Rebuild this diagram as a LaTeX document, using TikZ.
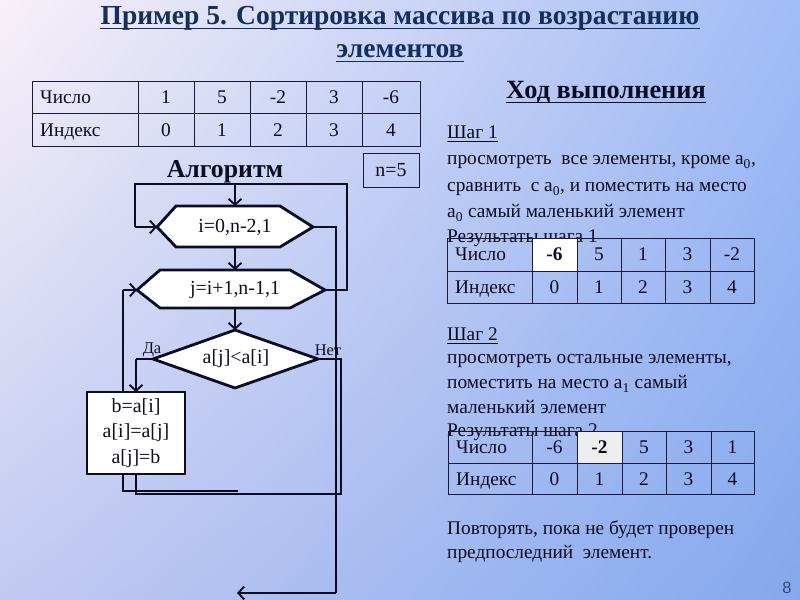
\documentclass[tikz,border=0pt]{standalone}
\usepackage{fontspec}
\setmainfont{Liberation Serif}
\newfontfamily\pgnumfont{Liberation Sans}
\usetikzlibrary{arrows.meta,shadings}
\definecolor{ink}{HTML}{0C0C22}
\definecolor{titlecol}{HTML}{14305A}
\definecolor{gridcol}{HTML}{1A1A3A}
\definecolor{bgUL}{HTML}{F8F0F8}
\definecolor{bgUR}{HTML}{A2BCF6}
\definecolor{bgLL}{HTML}{C2CAF2}
\definecolor{bgLR}{HTML}{84A8EE}
\definecolor{cellgray}{HTML}{EEEEEE}
\definecolor{numcol}{HTML}{3A4670}
\tikzset{
  flow/.style={line width=2.4pt, draw=ink, line join=miter},
  arr/.style={flow, -{Straight Barb[length=5pt,width=11pt,line width=1.6pt]}},
  grid/.style={line width=0.8pt, draw=gridcol},
  cell/.style={inner sep=0pt, text depth=0pt, font=\fontsize{16.5}{18}\selectfont, text=ink},
  lbl/.style={inner sep=0pt, text depth=0pt, anchor=west, font=\fontsize{16.5}{18}\selectfont, text=ink},
  body/.style={inner sep=0pt, anchor=base west, font=\fontsize{16.5}{18}\selectfont, text=ink},
  ftxt/.style={inner sep=0pt, font=\fontsize{17}{22}\selectfont, text=ink, align=center},
  ulin/.style={line width=1.3pt},
}
\begin{document}
\begin{tikzpicture}[x=0.03cm,y=-0.03cm]
\useasboundingbox (0,0) rectangle (800,600);
\shade[upper left=bgUL, upper right=bgUR, lower left=bgLL, lower right=bgLR] (0,0) rectangle (800,600);

% Title
\node[inner sep=0pt, anchor=base, font=\bfseries\fontsize{23.5}{26}\selectfont, text=titlecol] (title1) at (400,25) {Пример 5. Сортировка массива по возрастанию};
\node[inner sep=0pt, anchor=base, font=\bfseries\fontsize{23.5}{26}\selectfont, text=titlecol] (title2) at (400,58) {элементов};
\draw[ulin, titlecol] ([yshift=-3pt]title1.base west) -- ([yshift=-3pt]title1.base east);
\draw[ulin, titlecol] ([yshift=-3pt]title2.base west) -- ([yshift=-3pt]title2.base east);

% Top table
\draw[grid] (32,81) rectangle (420,146);
\draw[grid] (32,113) -- (420,113);
\foreach \x in {138,194,250,306,362} \draw[grid] (\x,81) -- (\x,146);
\node[lbl] (t0r1) at (40,97) {Число};
\node[lbl] (t0r2) at (40,130) {Индекс};
\foreach \v/\x/\n in {1/166/a,5/222/b,-2/278/c,3/334/d,-6/391/e}
  \node[cell] (t0n\n) at (\x,97) {\v};
\foreach \v/\x/\n in {0/166/a,1/222/b,2/278/c,3/334/d,4/391/e}
  \node[cell] (t0i\n) at (\x,130) {\v};

% Algorithm heading and n=5
\node[inner sep=0pt, font=\bfseries\fontsize{22}{24}\selectfont, text=ink] (algo) at (225,172) {Алгоритм};
\node[draw=gridcol, line width=0.8pt, minimum width=56*0.03cm, minimum height=34*0.03cm, inner sep=0pt, font=\fontsize{17}{20}\selectfont, text=ink] (nbox) at (391,170) {n=5};

% Flowchart shapes (coordinates)
\coordinate (h1l) at (157,227); \coordinate (h1r) at (313,227);
\coordinate (h1t) at (235,206); \coordinate (h1b) at (235,247);
\coordinate (h2l) at (137,290); \coordinate (h2r) at (325,290);
\coordinate (h2t) at (235,270); \coordinate (h2b) at (235,308);
\coordinate (dl) at (153,359); \coordinate (dr) at (318,359);
\coordinate (dt) at (235,330); \coordinate (db) at (235,388);

% connectors behind
\coordinate (c1) at (347,290); \coordinate (c2) at (347,184);
\coordinate (c3) at (135,184); \coordinate (c4) at (135,227);
\coordinate (c5) at (235,184);
\draw[flow] (h2r) -- (c1) -- (c2) -- (c3) -- (c4);
\draw[arr] (c4) -- (h1l);
\draw[arr] (c5) -- (h1t);
\draw[arr] (h1b) -- (h2t);
\draw[arr] (h2b) -- (dt);
\coordinate (e1) at (336,227); \coordinate (e2) at (336,593); \coordinate (exit) at (237,593);
\draw[flow] (h1r) -- (e1) -- (e2);
\draw[arr] (e2) -- (exit);
\coordinate (l1) at (238,491); \coordinate (l2) at (123,491); \coordinate (l3) at (123,290);
\draw[flow] (l1) -- (l2) -- (l3);
\draw[arr] (l3) -- (h2l);
\coordinate (y1) at (136,359); \coordinate (boxtop) at (136,392);
\draw[flow] (dl) -- (y1);
\draw[arr] (y1) -- (boxtop);
\coordinate (m1) at (136,494); \coordinate (m2) at (341,494); \coordinate (m3) at (341,359);
\coordinate (boxbot) at (136,474);
\draw[flow] (boxbot) -- (m1) -- (m2) -- (m3) -- (dr);

% shapes
\draw[flow, fill=white] (h1l) -- (176,206) -- (280,206) -- (h1r) -- (280,247) -- (176,247) -- cycle;
\node[ftxt] (hex1) at (235,227) {i=0,n-2,1};
\draw[flow, fill=white] (h2l) -- (160,270) -- (290,270) -- (h2r) -- (290,308) -- (160,308) -- cycle;
\node[ftxt] (hex2) at (235,290) {j=i+1,n-1,1};
\draw[flow, fill=white] (dt) -- (dr) -- (db) -- (dl) -- cycle;
\node[ftxt] (cond) at (236,359) {a[j]<a[i]};
\node[flow, fill=white, minimum width=98*0.03cm, minimum height=82*0.03cm, inner sep=0pt, ftxt] (box) at (136,433) {b=a[i]\\a[i]=a[j]\\a[j]=b};
\node[inner sep=0pt, font=\fontsize{14}{16}\selectfont, text=ink] (yes) at (152,350) {Да};
\node[inner sep=0pt, font=\fontsize{14}{16}\selectfont, text=ink] (no) at (328,350) {Нет};

% Right side
\node[inner sep=0pt, anchor=base, font=\bfseries\fontsize{22.5}{24}\selectfont, text=ink] (hod) at (606,99) {Ход выполнения};
\draw[ulin, ink] ([yshift=-3pt]hod.base west) -- ([yshift=-3pt]hod.base east);

\node[body] (s1) at (447,139) {Шаг 1};
\draw[line width=0.8pt, ink] ([yshift=-2.5pt]s1.base west) -- ([yshift=-2.5pt]s1.base east);
\node[body] (s1a) at (447,165) {просмотреть\ \ все элементы, кроме a\textsubscript{0},};
\node[body] (s1b) at (447,192) {сравнить\ \ с a\textsubscript{0}, и поместить на место};
\node[body] (s1c) at (447,218) {a\textsubscript{0} самый маленький элемент};
\node[body] (s1d) at (447,243) {Результаты шага 1};

% Table 2
\fill[white] (532,238) rectangle (577,271);
\draw[grid] (447,238) rectangle (754,303);
\draw[grid] (447,271) -- (754,271);
\foreach \x in {532,577,621,665,710} \draw[grid] (\x,238) -- (\x,303);
\node[lbl] (t1r1) at (455,254.5) {Число};
\node[lbl] (t1r2) at (455,287.5) {Индекс};
\node[cell, font=\bfseries\fontsize{16.5}{18}\selectfont] (t1na) at (554.5,254.5) {-6};
\foreach \v/\x/\n in {5/599/b,1/643/c,3/687.5/d,-2/732/e}
  \node[cell] (t1n\n) at (\x,254.5) {\v};
\foreach \v/\x/\n in {0/554.5/a,1/599/b,2/643/c,3/687.5/d,4/732/e}
  \node[cell] (t1i\n) at (\x,287.5) {\v};

% Step 2
\node[body] (s2) at (447,341) {Шаг 2};
\draw[line width=0.8pt, ink] ([yshift=-2.5pt]s2.base west) -- ([yshift=-2.5pt]s2.base east);
\node[body] (s2a) at (447,364) {просмотреть остальные элементы,};
\node[body] (s2b) at (447,389) {поместить на место a\textsubscript{1} самый};
\node[body] (s2c) at (447,414) {маленький элемент};
\node[body] (s2d) at (447,437) {Результаты шага 2};

% Table 3
\fill[cellgray] (577,431) rectangle (622,463);
\draw[grid] (448,431) rectangle (754,494);
\draw[grid] (448,463) -- (754,463);
\foreach \x in {532,577,622,666,711} \draw[grid] (\x,431) -- (\x,494);
\node[lbl] (t2r1) at (456,447) {Число};
\node[lbl] (t2r2) at (456,479) {Индекс};
\node[cell, font=\bfseries\fontsize{16.5}{18}\selectfont] (t2nb) at (599.5,447) {-2};
\foreach \v/\x/\n in {-6/554.5/a,5/644/c,3/688.5/d,1/732.5/e}
  \node[cell] (t2n\n) at (\x,447) {\v};
\foreach \v/\x/\n in {0/554.5/a,1/599.5/b,2/644/c,3/688.5/d,4/732.5/e}
  \node[cell] (t2i\n) at (\x,479) {\v};

% Bottom text
\node[body] (rep1) at (447,535) {Повторять, пока не будет проверен};
\node[body] (rep2) at (447,559) {предпоследний\ \ элемент.};

\node[inner sep=0pt, font=\pgnumfont\fontsize{14}{16}\selectfont, text=numcol] (pg) at (787,588) {8};
\end{tikzpicture}
\end{document}
